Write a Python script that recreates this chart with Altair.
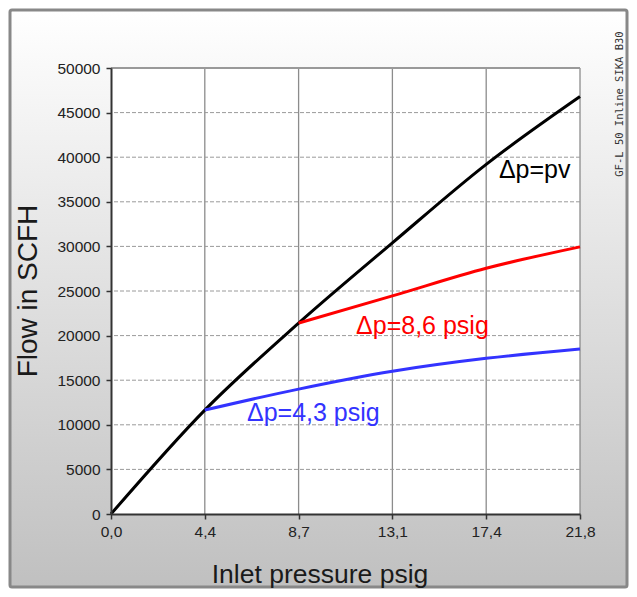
import altair as alt
import pandas as pd

# ---------------- data ----------------
x_ticks = [0, 4.36, 8.72, 13.08, 17.44, 21.8]
y_ticks = [0, 5000, 10000, 15000, 20000, 25000, 30000, 35000, 40000, 45000, 50000]

pv_x = [0, 4.36, 8.72, 13.08, 17.44, 21.8]
pv_y = [0, 11650, 21400, 30400, 39200, 46800]

d86_x = [8.72, 13.08, 17.44, 21.8]
d86_y = [21400, 24450, 27550, 29950]

d43_x = [4.36, 8.72, 13.08, 17.44, 21.8]
d43_y = [11650, 14000, 16000, 17450, 18500]

series = ["Δp=pv", "Δp=8,6 psig", "Δp=4,3 psig"]
colors = ["#000000", "#ff0000", "#3333ff"]
label_x = [18.03, 11.39, 6.32]
label_y = [38560, 21080, 11320]

x_title = "Inlet pressure psig"
y_title = "Flow in SCFH"
side_note = "GF-L 50 Inline SIKA B30"

# ---------------- tables ----------------
rows = []
for s, xs, ys in zip(series, [pv_x, d86_x, d43_x], [pv_y, d86_y, d43_y]):
    for i, (a, b) in enumerate(zip(xs, ys)):
        rows.append({"series": s, "x": a, "y": b, "i": i})
lines_df = pd.DataFrame(rows)
labels_df = pd.DataFrame({"series": series, "x": label_x, "y": label_y})
vgrid_df = pd.DataFrame({"x": x_ticks[1:]})
hgrid_df = pd.DataFrame({"y": y_ticks[1:-1]})
top_df = pd.DataFrame({"y": [y_ticks[-1]]})
one = pd.DataFrame({"k": [0]})

W, H = 469, 446
PL, PT, PR, PB = 103, 60, 49, 75
FONT = "Liberation Sans"

xscale = alt.Scale(domain=[0, 21.8], nice=False, zero=False)
yscale = alt.Scale(domain=[0, 50000], nice=False)

xaxis = alt.Axis(values=x_ticks, title=None, grid=False,
                 labelExpr="replace(format(datum.value, '.1f'), '.', ',')",
                 domainColor="#333333", domainWidth=2, tickColor="#333333",
                 tickSize=5, tickWidth=1.5, labelFont=FONT, labelFontSize=15.5,
                 labelColor="#222222", labelPadding=5, labelFlush=False,
                 labelOverlap=False, zindex=1)
yaxis = alt.Axis(values=y_ticks, title=None, grid=False, format="d",
                 domainColor="#333333", domainWidth=2, tickColor="#333333",
                 tickSize=5, tickWidth=1.5, labelFont=FONT, labelFontSize=15.5,
                 labelColor="#222222", labelPadding=6, labelFlush=False,
                 labelOverlap=False, zindex=1)

X = alt.X("x:Q", scale=xscale, axis=xaxis)
Y = alt.Y("y:Q", scale=yscale, axis=yaxis)

colscale = alt.Scale(domain=series, range=colors)

grad = alt.LinearGradient(
    gradient="linear",
    stops=[alt.GradientStop(color="#ffffff", offset=0),
           alt.GradientStop(color="#c0c0c0", offset=1)],
    x1=0, x2=0, y1=0, y2=1)

bg = alt.Chart(one).mark_rect(fill=grad, stroke="#888888", strokeWidth=3,
                              cornerRadius=2).encode(
    x=alt.value(-PL + 2), x2=alt.value(W + PR - 2),
    y=alt.value(-PT + 2), y2=alt.value(H + PB - 2))

plotbg = alt.Chart(one).mark_rect(fill="white").encode(
    x=alt.value(0), x2=alt.value(W), y=alt.value(0), y2=alt.value(H))

vgrid = alt.Chart(vgrid_df).mark_rule(color="#8c8c8c", strokeWidth=1.3).encode(x=X)
hgrid = alt.Chart(hgrid_df).mark_rule(color="#9a9a9a", strokeWidth=1,
                                      strokeDash=[4, 2]).encode(y=Y)
topline = alt.Chart(top_df).mark_rule(color="#999999", strokeWidth=2).encode(y=Y)

lines = alt.Chart(lines_df).mark_line(strokeWidth=3, interpolate="monotone").encode(
    x=X, y=Y,
    color=alt.Color("series:N", scale=colscale, legend=None),
    order="i:Q")

labels = alt.Chart(labels_df).mark_text(font=FONT, fontSize=25, align="left",
                                        baseline="middle").encode(
    x=X, y=Y, text="series:N",
    color=alt.Color("series:N", scale=colscale, legend=None))

xt = alt.Chart(one).mark_text(text=x_title, font=FONT, fontSize=26.5,
                              color="#1a1a1a", align="center",
                              baseline="middle").encode(
    x=alt.value(209), y=alt.value(507))
yt = alt.Chart(one).mark_text(text=y_title, font=FONT, fontSize=28,
                              color="#1a1a1a", align="center",
                              baseline="middle", angle=270).encode(
    x=alt.value(-82), y=alt.value(223))
note = alt.Chart(one).mark_text(text=side_note, font="DejaVu Sans Mono",
                                fontSize=10.5, color="#333333", align="center",
                                baseline="middle", angle=270).encode(
    x=alt.value(509), y=alt.value(36))

chart = alt.layer(bg, plotbg, vgrid, hgrid, topline, lines, labels, xt, yt, note).properties(
    width=W, height=H,
    autosize=alt.AutoSizeParams(type="none"),
    padding={"left": PL, "top": PT, "right": PR, "bottom": PB},
    background="white",
).configure_view(strokeWidth=0)

chart.save("out.html", embed_options={"renderer": "svg", "actions": False})
